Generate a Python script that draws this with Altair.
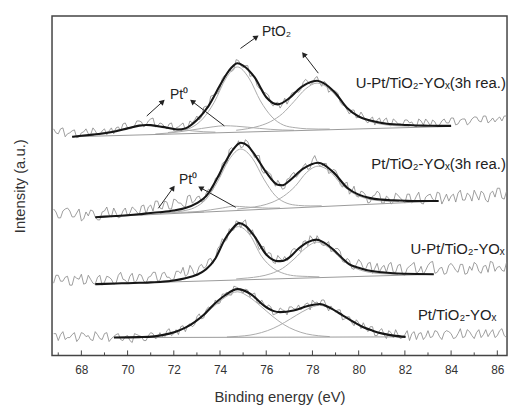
import math
import altair as alt
import pandas as pd

FONT = "Liberation Sans"
X_DOMAIN = [66.73, 86.42]
Y_DOMAIN = [0, 343]
W, H = 460, 343
MAJOR_TICKS = list(range(68, 87, 2))
MINOR_TICKS = list(range(67, 86, 2))

# ---------------- raw (noisy) spectra ----------------
# samples at 66.8, 67.0, ... (step 0.2) and at 66.9, 67.1, ... (step 0.2)
RAW_E0_A, RAW_E0_B, RAW_STEP = 66.8, 66.9, 0.2
RAW1_A = [229, 224, 230, 224, 227, 220, 225, 229, 223, 227,
          223, 229, 227, 224, 231, 234, 230, 230, 237, 236,
          233, 239, 231, 235, 231, 234, 227, 231, 235, 230,
          235, 242, 241, 252, 262, 264, 270, 283, 289, 289,
          298, 291, 293, 283, 273, 270, 265, 255, 255, 250,
          260, 259, 266, 266, 276, 277, 275, 282, 272, 275,
          268, 267, 256, 253, 244, 248, 241, 242, 235, 241,
          238, 234, 240, 232, 237, 234, 238, 235, 232, 239,
          233, 236, 238, 231, 237, 235, 240, 233, 238, 239,
          235, 241, 237, 242, 235, 240, 239, 237, 242]
RAW1_B = [225, 229, 221, 225, 228, 221, 226, 224, 230, 223,
          227, 223, 230, 230, 227, 235, 229, 232, 237, 231,
          237, 240, 232, 234, 229, 235, 230, 233, 228, 237,
          238, 238, 251, 251, 263, 265, 280, 284, 287, 299,
          293, 293, 282, 282, 270, 266, 263, 252, 256, 254,
          254, 265, 267, 269, 279, 274, 280, 276, 277, 266,
          268, 265, 253, 248, 248, 240, 246, 237, 239, 233,
          240, 238, 233, 239, 234, 233, 238, 236, 231, 237,
          239, 232, 236, 233, 239, 235, 240, 234, 239, 233,
          239, 241, 236, 242, 237, 236, 241, 242]
RAW2_A = [148, 139, 146, 149, 140, 144, 136, 145, 147, 140,
          137, 146, 142, 149, 139, 146, 141, 150, 145, 151,
          143, 152, 156, 149, 156, 148, 158, 154, 151, 161,
          154, 160, 155, 164, 166, 179, 181, 196, 208, 208,
          217, 211, 216, 205, 202, 187, 187, 183, 171, 173,
          169, 179, 185, 183, 191, 188, 198, 196, 191, 194,
          185, 187, 173, 174, 163, 171, 160, 165, 154, 161,
          166, 154, 161, 153, 164, 159, 154, 163, 156, 165,
          153, 162, 158, 165, 153, 163, 161, 155, 167, 157,
          162, 167, 157, 164, 155, 166, 169, 159, 166]
RAW2_B = [145, 139, 148, 146, 140, 148, 138, 141, 146, 137,
          145, 150, 140, 144, 140, 149, 144, 148, 142, 152,
          150, 146, 156, 148, 155, 148, 157, 154, 150, 162,
          156, 161, 156, 168, 168, 180, 194, 194, 210, 211,
          210, 218, 210, 200, 202, 184, 185, 176, 177, 168,
          178, 183, 180, 186, 194, 189, 202, 192, 194, 184,
          188, 182, 170, 175, 166, 161, 166, 162, 155, 162,
          164, 154, 159, 155, 162, 157, 163, 154, 161, 154,
          160, 163, 156, 164, 158, 156, 163, 164, 157, 164,
          156, 162, 166, 157, 164, 160, 169, 158]
RAW3_A = [73, 81, 75, 80, 71, 78, 82, 73, 77, 72,
          81, 74, 79, 72, 81, 77, 73, 83, 76, 81,
          73, 80, 84, 76, 84, 79, 77, 85, 89, 82,
          87, 83, 92, 90, 98, 98, 111, 115, 128, 127,
          135, 135, 126, 127, 113, 110, 101, 103, 93, 98,
          100, 98, 108, 107, 115, 111, 118, 121, 112, 113,
          105, 108, 105, 94, 96, 87, 97, 88, 93, 83,
          93, 89, 84, 94, 84, 92, 81, 90, 94, 85,
          82, 91, 95, 84, 89, 83, 93, 86, 92, 82,
          90, 94, 85, 90, 84, 94, 89, 86, 94]
RAW3_B = [81, 75, 79, 71, 80, 77, 72, 81, 73, 79,
          71, 80, 77, 73, 84, 76, 80, 73, 82, 75,
          79, 84, 75, 83, 79, 76, 85, 83, 80, 91,
          81, 90, 88, 97, 93, 108, 118, 117, 126, 136,
          129, 137, 122, 120, 107, 110, 104, 94, 101, 96,
          96, 106, 107, 105, 116, 121, 113, 117, 111, 115,
          106, 108, 95, 98, 88, 92, 94, 87, 94, 88,
          84, 91, 92, 84, 91, 82, 88, 92, 83, 90,
          86, 94, 83, 88, 82, 91, 90, 84, 92, 83,
          86, 92, 83, 91, 95, 85, 90, 85]
RAW4_A = [22, 15, 24, 18, 21, 14, 23, 19, 16, 24,
          17, 22, 14, 19, 22, 15, 20, 13, 21, 19,
          15, 23, 17, 23, 18, 27, 22, 21, 30, 30,
          29, 39, 37, 46, 47, 56, 53, 62, 61, 70,
          68, 63, 66, 62, 54, 56, 48, 49, 42, 48,
          45, 49, 47, 51, 49, 53, 56, 54, 56, 50,
          50, 44, 46, 37, 39, 30, 33, 33, 24, 29,
          20, 27, 17, 23, 26, 17, 21, 15, 24, 22,
          16, 25, 19, 24, 16, 25, 22, 18, 27, 19,
          24, 17, 26, 21, 19, 26, 20, 27, 18]
RAW4_B = [22, 21, 16, 18, 23, 17, 22, 20, 15, 21,
          16, 23, 17, 21, 16, 19, 15, 22, 20, 15,
          20, 22, 18, 19, 25, 20, 26, 29, 24, 32,
          31, 42, 38, 49, 49, 52, 62, 64, 61, 69,
          65, 67, 59, 63, 52, 52, 51, 41, 43, 46,
          41, 49, 47, 46, 52, 46, 53, 51, 56, 45,
          46, 46, 36, 39, 33, 36, 27, 28, 29, 20,
          25, 21, 25, 18, 21, 18, 25, 22, 16, 23,
          19, 18, 25, 19, 23, 24, 17, 22, 18, 26,
          20, 23, 18, 26, 23, 18, 25, 20]

# ---------------- fitted envelopes ----------------
FIT1_E = [67.6, 68.0, 68.5, 69.0, 69.5, 70.0, 70.5, 70.8, 71.0, 71.5, 72.0, 72.2, 72.5, 73.0, 73.5,
          74.0, 74.3, 74.5, 74.75, 75.0, 75.5, 76.0, 76.5, 77.0, 77.5, 78.0, 78.2, 78.5, 79.0, 79.5,
          80.0, 80.5, 81.0, 81.5, 82.0, 82.5, 83.0, 83.5, 84.0]
FIT1_V = [221, 222, 223.2, 224.5, 226.5, 229.5, 232.3, 233, 232.8, 231, 228.8, 228.3, 229.5, 238, 252,
          273, 285, 291, 295.3, 293, 281, 261, 253.8, 260, 271, 277, 277.7, 275, 265, 250,
          241.5, 237.5, 235, 233.7, 233, 232.4, 232.2, 232, 232]
FIT2_E = [68.6, 69.0, 69.5, 70.0, 70.5, 71.0, 71.5, 72.0, 72.5, 73.0, 73.4, 73.9, 74.2, 74.5, 74.9,
          75.2, 75.5, 76.0, 76.5, 76.7, 77.0, 77.6, 78.25, 78.9, 79.5, 80.0, 80.5, 81.0, 81.5, 82.0,
          82.5, 83.0, 83.46]
FIT2_V = [139.7, 140.3, 141, 141.7, 142.7, 144, 145, 146.5, 149, 154, 161, 180, 194, 206, 215,
          212, 203, 185, 172.5, 172, 176.5, 188.7, 194.7, 185.3, 169.5, 162.5, 159, 157.5, 156.8, 156.3,
          156, 156, 156]
FIT3_E = [68.6, 69.0, 69.5, 70.0, 70.5, 71.0, 71.5, 72.0, 72.5, 73.0, 73.4, 73.8, 74.2, 74.5, 74.83,
          75.1, 75.5, 76.0, 76.5, 76.7, 77.0, 77.4, 77.8, 78.18, 78.5, 78.9, 79.3, 79.6, 80.0, 80.32,
          81.0, 81.5, 82.0, 82.5, 83.25]
FIT3_V = [72, 72.3, 72.7, 73, 73.4, 73.8, 74.5, 75.8, 78, 81.5, 87, 98, 117, 127, 133.7,
          131, 120, 102, 95.3, 95.5, 99, 108, 114.5, 117, 114, 107, 98, 92, 88.5, 86.3,
          84, 83, 82.5, 82.2, 82]
FIT4_E = [69.41, 70.0, 70.5, 70.9, 71.5, 72.05, 72.5, 72.9, 73.3, 73.61, 74.19, 74.76, 75.33, 75.9,
          76.3, 76.6, 77.18, 77.8, 78.32, 78.8, 79.32, 79.8, 80.18, 80.6, 81.04, 81.5, 82.03]
FIT4_V = [18, 18.2, 18.5, 18.7, 20.5, 23.7, 28, 33.7, 41, 48.7, 60.3, 67, 62, 50.3,
          45, 43.7, 45.3, 50, 52, 47.5, 40.3, 33.5, 28.7, 25, 22, 20, 18.7]

# ---------------- fitted components ----------------
C1A_E = [67.6, 67.8, 68.3, 68.8, 69.3, 69.8, 70.3, 70.8, 71.3, 71.8, 72.3, 72.8, 73.3, 73.8]
C1A_V = [221.2, 221.8, 222.9, 224.5, 226.6, 229.0, 231.2, 232.6, 231.9, 230.3, 228.5, 227.0, 226.1, 225.7]
C1B_E = [71.2, 71.7, 72.2, 72.7, 73.2, 73.7, 74.2, 74.7, 75.2, 75.7, 76.2, 76.7, 77.2]
C1B_V = [223.8, 224.7, 225.9, 227.6, 229.4, 231.1, 232.2, 231.7, 230.7, 229.5, 228.5, 227.9, 227.6]
C1C_E = [71.75, 72.25, 72.75, 73.25, 73.75, 74.25, 74.75, 75.25, 75.75, 76.25, 76.75, 77.25, 77.75, 78.25, 78.75]
C1C_V = [225.3, 227.0, 230.2, 239.1, 255.9, 279.8, 291.6, 280.4, 257.2, 241.0, 232.8, 230.2, 229.1, 228.8, 228.8]
C1D_E = [74.7, 75.2, 75.7, 76.2, 76.7, 77.2, 77.7, 78.2, 78.7, 79.2, 79.7, 80.2, 80.7, 81.2, 81.7, 82.2]
C1D_V = [227.6, 229.2, 231.9, 236.5, 244.4, 256.6, 269.3, 275.3, 269.9, 257.9, 246.3, 239.1, 235.1, 233.0, 232.1, 231.7]

C2A_E = [69.3, 69.8, 70.3, 70.8, 71.3, 71.8, 72.3, 72.8, 73.3]
C2A_V = [140.7, 141.5, 142.5, 143.6, 144.7, 144.7, 144.7, 144.8, 145.1]
C2B_E = [72.6, 73.1, 73.6, 74.1, 74.6, 75.1, 75.6, 76.1, 76.6]
C2B_V = [144.6, 145.6, 147.2, 149.0, 150.8, 150.1, 149.4, 148.9, 149.0]
C2C_E = [71.4, 71.9, 72.4, 72.9, 73.4, 73.9, 74.4, 74.9, 75.4, 75.9, 76.4, 76.9, 77.4, 77.9, 78.4]
C2C_V = [143.5, 144.5, 146.1, 149.4, 158.0, 175.9, 198.2, 208.6, 199.3, 178.1, 161.3, 153.8, 151.6, 151.1, 151.2]
C2D_E = [74.75, 75.25, 75.75, 76.25, 76.75, 77.25, 77.75, 78.25, 78.75, 79.25, 79.75, 80.25, 80.75, 81.25, 81.75]
C2D_V = [147.9, 149.3, 151.2, 154.7, 160.9, 170.9, 185.0, 191.3, 186.1, 173.1, 164.2, 159.1, 156.7, 155.9, 155.5]

C3C_E = [71.3, 71.8, 72.3, 72.8, 73.3, 73.8, 74.3, 74.8, 75.3, 75.8, 76.3, 76.8, 77.3, 77.8, 78.3]
C3C_V = [74.6, 75.7, 76.9, 79.8, 86.0, 98.8, 120.7, 130.2, 121.4, 100.1, 88.1, 82.5, 80.3, 79.8, 79.4]
C3D_E = [74.7, 75.2, 75.7, 76.2, 76.7, 77.2, 77.7, 78.2, 78.7, 79.2, 79.7, 80.2, 80.7, 81.2, 81.7]
C3D_V = [77.3, 78.3, 79.75, 82.6, 87.9, 97.3, 108.4, 114.6, 109.1, 98.6, 90.0, 85.3, 83.2, 82.4, 82.05]

C4C_E = [70.75, 71.25, 71.75, 72.25, 72.75, 73.25, 73.75, 74.25, 74.75, 75.25, 75.75, 76.25, 76.75, 77.25, 77.75, 78.25, 78.75]
C4C_V = [18.6, 19.5, 21.3, 25.1, 31.1, 39.8, 49.9, 59.2, 64.3, 59.2, 50.0, 40.0, 31.3, 25.4, 21.7, 19.9, 19.0]
C4D_E = [74.3, 74.8, 75.3, 75.8, 76.3, 76.8, 77.3, 77.8, 78.3, 78.8, 79.3, 79.8, 80.3, 80.8, 81.3, 81.8]
C4D_V = [18.6, 19.3, 20.5, 23.1, 27.3, 33.4, 40.5, 47.0, 50.6, 47.1, 40.7, 33.6, 27.6, 23.4, 21.0, 19.8]

# ---------------- backgrounds ----------------
BG1_E, BG1_V = [67.6, 84.0], [221, 231.5]
BG2_E, BG2_V = [68.6, 83.46], [139.7, 156]
BG3_E, BG3_V = [68.6, 83.25], [72, 82]
BG4_E, BG4_V = [69.41, 82.03], [18, 18.7]

# ---------------- texts ----------------
SERIES_LABELS = ["U-Pt/TiO\u2082-YO\u2093(3h rea.)", "Pt/TiO\u2082-YO\u2093(3h rea.)",
                 "U-Pt/TiO\u2082-YO\u2093", "Pt/TiO\u2082-YO\u2093"]
SERIES_LABEL_E = [86.37, 86.37, 86.32, 85.96]
SERIES_LABEL_V = [270.3, 188.0, 102.0, 36.0]

ANNOT_TEXT = ["PtO\u2082", "Pt\u2070", "Pt\u2070"]
ANNOT_E = [76.45, 72.23, 72.62]
ANNOT_V = [322.5, 259.5, 173.5]

# arrows: tail (E, v) -> head (E, v)
ARROW_E0 = [74.885, 78.254, 70.83, 74.19, 71.33, 74.68]
ARROW_V0 = [310.3, 285.3, 242.0, 232.0, 148.7, 149.7]
ARROW_E1 = [75.685, 77.539, 71.62, 72.69, 72.05, 73.04]
ARROW_V1 = [323.7, 307.0, 258.7, 258.7, 172.0, 171.0]

# ---------------- build tables ----------------
def frame(name, E, V):
    return pd.DataFrame({"E": E, "v": V, "id": name})


def raw_frame(name, a_vals, b_vals):
    ea = [round(RAW_E0_A + RAW_STEP * i, 2) for i in range(len(a_vals))]
    eb = [round(RAW_E0_B + RAW_STEP * i, 2) for i in range(len(b_vals))]
    df = pd.DataFrame({"E": ea + eb, "v": list(a_vals) + list(b_vals), "id": name})
    return df.sort_values("E").reset_index(drop=True)


raw_df = pd.concat([raw_frame("r1", RAW1_A, RAW1_B), raw_frame("r2", RAW2_A, RAW2_B),
                    raw_frame("r3", RAW3_A, RAW3_B), raw_frame("r4", RAW4_A, RAW4_B)])
raw_df["o"] = range(len(raw_df))
fit_df = pd.concat([frame("f1", FIT1_E, FIT1_V), frame("f2", FIT2_E, FIT2_V),
                    frame("f3", FIT3_E, FIT3_V), frame("f4", FIT4_E, FIT4_V)])
comp_df = pd.concat([
    frame("c1a", C1A_E, C1A_V), frame("c1b", C1B_E, C1B_V), frame("c1c", C1C_E, C1C_V), frame("c1d", C1D_E, C1D_V),
    frame("c2a", C2A_E, C2A_V), frame("c2b", C2B_E, C2B_V), frame("c2c", C2C_E, C2C_V), frame("c2d", C2D_E, C2D_V),
    frame("c3c", C3C_E, C3C_V), frame("c3d", C3D_E, C3D_V),
    frame("c4c", C4C_E, C4C_V), frame("c4d", C4D_E, C4D_V),
])
bg_df = pd.concat([frame("b1", BG1_E, BG1_V), frame("b2", BG2_E, BG2_V),
                   frame("b3", BG3_E, BG3_V), frame("b4", BG4_E, BG4_V)])

px_E = W / (X_DOMAIN[1] - X_DOMAIN[0])
px_v = H / (Y_DOMAIN[1] - Y_DOMAIN[0])
rows = []
for e0, v0, e1, v1 in zip(ARROW_E0, ARROW_V0, ARROW_E1, ARROW_V1):
    dx = (e1 - e0) * px_E
    dy = -(v1 - v0) * px_v
    L = math.hypot(dx, dy)
    ux, uy = dx / L, dy / L
    ang = math.degrees(math.atan2(dx, -dy)) % 360
    rows.append({
        "E": e0, "v": v0,
        "E1": e1 - 5 * ux / px_E, "v1": v1 + 5 * uy / px_v,
        "Eh": e1 - 3.2 * ux / px_E, "vh": v1 + 3.2 * uy / px_v,
        "ang": ang,
    })
arrow_df = pd.DataFrame(rows)

lab_df = pd.DataFrame({"E": SERIES_LABEL_E, "v": SERIES_LABEL_V, "t": SERIES_LABELS})
ann_df = pd.DataFrame({"E": ANNOT_E, "v": ANNOT_V, "t": ANNOT_TEXT})
major_df = pd.DataFrame({"E": MAJOR_TICKS})
minor_df = pd.DataFrame({"E": MINOR_TICKS})

xs = alt.Scale(domain=X_DOMAIN, nice=False, zero=False)
ys = alt.Scale(domain=Y_DOMAIN, nice=False, zero=False)

x_axis = alt.Axis(values=MAJOR_TICKS, format="d", ticks=False, domain=False, grid=False,
                  labelPadding=9, labelFontSize=12, labelFont=FONT, labelColor="#333",
                  title="Binding energy (eV)", titleFontSize=15, titleFont=FONT,
                  titleFontWeight="normal", titleColor="#333", titlePadding=15, labelFlush=False)
y_axis = alt.Axis(labels=False, ticks=False, domain=False, grid=False,
                  title="Intensity (a.u.)", titleFontSize=15, titleFont=FONT,
                  titleFontWeight="normal", titleColor="#333", titlePadding=25)


def X(field="E"):
    return alt.X(f"{field}:Q", scale=xs, axis=x_axis)


def Y(field="v"):
    return alt.Y(f"{field}:Q", scale=ys, axis=y_axis)


raw = alt.Chart(raw_df).mark_line(color="#858585", strokeWidth=0.8).encode(
    x=X(), y=Y(), detail="id:N", order="o:Q")
comps = alt.Chart(comp_df).mark_line(color="#ababab", strokeWidth=1, interpolate="monotone").encode(
    x=X(), y=Y(), detail="id:N")
bgs = alt.Chart(bg_df).mark_line(color="#9a9a9a", strokeWidth=1).encode(x=X(), y=Y(), detail="id:N")
fits = alt.Chart(fit_df).mark_line(color="#161616", strokeWidth=2.1, interpolate="monotone").encode(
    x=X(), y=Y(), detail="id:N")

arrow_lines = alt.Chart(arrow_df).mark_rule(color="#222", strokeWidth=1).encode(
    x=X(), y=Y(), x2="E1:Q", y2="v1:Q")
arrow_heads = alt.Chart(arrow_df).mark_point(shape="triangle-up", filled=True, size=38,
                                             color="#222", opacity=1, strokeWidth=0).encode(
    x=X("Eh"), y=Y("vh"), angle=alt.Angle("ang:Q", scale=None))

labels = alt.Chart(lab_df).mark_text(align="right", baseline="alphabetic", fontSize=15,
                                     font=FONT, color="#222").encode(x=X(), y=Y(), text="t:N")
annots = alt.Chart(ann_df).mark_text(align="center", baseline="alphabetic", fontSize=14,
                                     font=FONT, color="#222").encode(x=X(), y=Y(), text="t:N")

major = alt.Chart(major_df).mark_rule(color="#444", strokeWidth=1).encode(
    x=X(), y=alt.value(H), y2=alt.value(H - 5))
minor = alt.Chart(minor_df).mark_rule(color="#444", strokeWidth=1).encode(
    x=X(), y=alt.value(H), y2=alt.value(H - 3))

chart = alt.layer(raw, comps, bgs, fits, arrow_lines, arrow_heads, labels, annots, major, minor).properties(
    width=W, height=H,
    padding={"left": 44.5, "top": 6, "right": 2, "bottom": 52},
    autosize=alt.AutoSizeParams(type="none"),
).configure_view(stroke="#444", strokeWidth=1.5)

chart.save("out.html", embed_options={"renderer": "svg", "actions": False})
